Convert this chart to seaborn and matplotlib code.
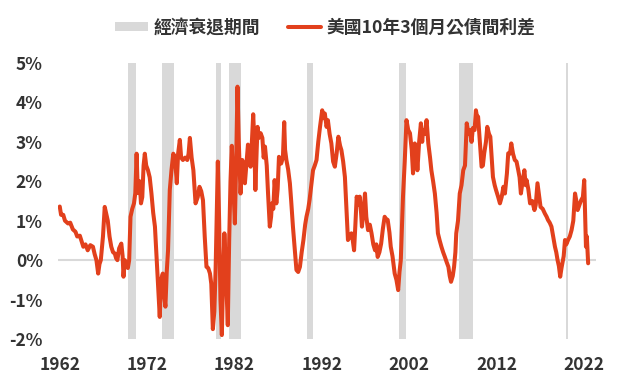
import pandas as pd
import matplotlib.pyplot as plt
import seaborn as sns
from matplotlib.patches import Patch
from matplotlib.lines import Line2D

# US 10y - 3m treasury spread (%)
years = [
    1962.0, 1962.15, 1962.4, 1962.6, 1962.95, 1963.2, 1963.5, 1963.8, 1964.0, 1964.3,
    1964.7, 1964.95, 1965.2, 1965.5, 1965.8, 1966.0, 1966.2, 1966.4, 1966.55, 1966.7,
    1966.95, 1967.15, 1967.3, 1967.5, 1967.7, 1967.9, 1968.1, 1968.3, 1968.45, 1968.6,
    1968.8, 1969.05, 1969.2, 1969.3, 1969.45, 1969.6, 1969.8, 1969.95, 1970.1, 1970.3,
    1970.5, 1970.65, 1970.8, 1970.9, 1971.0, 1971.15, 1971.3, 1971.45, 1971.6, 1971.74,
    1971.9, 1972.1, 1972.3, 1972.5, 1972.7, 1972.9, 1973.1, 1973.3, 1973.45, 1973.6,
    1973.8, 1973.95, 1974.1, 1974.25, 1974.4, 1974.5, 1974.6, 1974.8, 1975.0, 1975.2,
    1975.4, 1975.55, 1975.75, 1975.9, 1976.1, 1976.35, 1976.6, 1976.75, 1976.9, 1977.1,
    1977.3, 1977.55, 1977.8, 1978.0, 1978.2, 1978.4, 1978.6, 1978.8, 1979.0, 1979.2,
    1979.35, 1979.53, 1979.7, 1979.85, 1980.0, 1980.1, 1980.25, 1980.4, 1980.56, 1980.7,
    1980.85, 1980.95, 1981.1, 1981.24, 1981.4, 1981.55, 1981.7, 1981.85, 1982.05, 1982.2,
    1982.35, 1982.5, 1982.7, 1982.9, 1983.05, 1983.2, 1983.4, 1983.55, 1983.7, 1983.85,
    1984.0, 1984.15, 1984.25, 1984.4, 1984.55, 1984.65, 1984.8, 1985.0, 1985.2, 1985.35,
    1985.5, 1985.7, 1985.85, 1986.05, 1986.2, 1986.3, 1986.45, 1986.6, 1986.8, 1986.95,
    1987.1, 1987.35, 1987.55, 1987.7, 1987.8, 1987.95, 1988.15, 1988.35, 1988.5, 1988.7,
    1988.9, 1989.1, 1989.3, 1989.5, 1989.7, 1989.9, 1990.1, 1990.25, 1990.45, 1990.6,
    1990.8, 1991.0, 1991.2, 1991.4, 1991.6, 1991.8, 1992.05, 1992.2, 1992.35, 1992.55,
    1992.7, 1992.9, 1993.1, 1993.3, 1993.5, 1993.7, 1993.9, 1994.1, 1994.25, 1994.45,
    1994.65, 1994.85, 1995.0, 1995.2, 1995.4, 1995.55, 1995.7, 1995.85, 1996.0, 1996.2,
    1996.35, 1996.5, 1996.6, 1996.8, 1996.95, 1997.1, 1997.3, 1997.5, 1997.7, 1997.9,
    1998.1, 1998.25, 1998.4, 1998.6, 1998.8, 1999.0, 1999.2, 1999.35, 1999.55, 1999.75,
    1999.9, 2000.1, 2000.35, 2000.55, 2000.75, 2000.9, 2001.05, 2001.2, 2001.3, 2001.5,
    2001.7, 2001.9, 2002.1, 2002.3, 2002.45, 2002.65, 2002.8, 2002.95, 2003.15, 2003.35,
    2003.5, 2003.6, 2003.8, 2004.0, 2004.2, 2004.4, 2004.55, 2004.75, 2004.95, 2005.15,
    2005.3, 2005.5, 2005.7, 2005.9, 2006.1, 2006.3, 2006.5, 2006.65, 2006.8, 2007.0,
    2007.15, 2007.3, 2007.4, 2007.6, 2007.8, 2008.0, 2008.2, 2008.4, 2008.6, 2008.8,
    2008.95, 2009.15, 2009.3, 2009.5, 2009.65, 2009.8, 2009.9, 2010.1, 2010.3, 2010.45,
    2010.6, 2010.8, 2010.95, 2011.15, 2011.3, 2011.45, 2011.6, 2011.8, 2011.95, 2012.2,
    2012.4, 2012.6, 2012.8, 2012.97, 2013.2, 2013.35, 2013.55, 2013.7, 2013.9, 2014.1,
    2014.3, 2014.5, 2014.65, 2014.8, 2015.0, 2015.2, 2015.35, 2015.45, 2015.65, 2015.85,
    2016.1, 2016.35, 2016.5, 2016.7, 2016.85, 2017.05, 2017.3, 2017.55, 2017.75, 2017.9,
    2018.1, 2018.3, 2018.5, 2018.7, 2018.85, 2019.0, 2019.15, 2019.3, 2019.45, 2019.55,
    2019.7, 2019.85, 2020.0, 2020.2, 2020.4, 2020.6, 2020.8, 2021.0, 2021.15, 2021.3,
    2021.5, 2021.7, 2021.9, 2022.05, 2022.15, 2022.25, 2022.35, 2022.5,
]
spread = [
    1.36, 1.15, 1.15, 1.0, 0.93, 0.95, 0.78, 0.72, 0.6, 0.62,
    0.34, 0.4, 0.25, 0.38, 0.34, 0.15, 0.0, -0.34, -0.1, 0.0,
    0.6, 1.35, 1.2, 1.0, 0.6, 0.34, 0.2, 0.17, 0.05, 0.0,
    0.3, 0.42, 0.1, -0.42, 0.0, -0.08, -0.2, 0.0, 1.1, 1.3,
    1.44, 1.7, 2.7, 2.0, 1.7, 2.0, 1.44, 1.6, 2.4, 2.7,
    2.4, 2.28, 2.1, 1.69, 1.2, 0.85, 0.0, -0.8, -1.44, -0.5,
    -0.34, -0.9, -1.18, -0.3, 0.25, 1.0, 1.78, 2.3, 2.7, 2.6,
    1.95, 2.7, 3.05, 2.6, 2.54, 2.6, 2.54, 2.7, 3.1, 2.6,
    2.28, 1.44, 1.6, 1.86, 1.75, 1.52, 0.6, -0.17, -0.2, -0.34,
    -0.6, -1.75, -1.3, -0.2, 1.5, 2.5, 1.0, -1.0, -1.9, -0.5,
    0.68, 0.2, -0.8, -1.65, 0.5, 2.0, 2.9, 2.0, 0.93, 2.5,
    4.4, 3.0, 1.69, 2.54, 2.3, 1.95, 2.5, 2.93, 2.6, 2.37,
    3.0, 3.7, 3.2, 1.78, 2.8, 3.38, 3.1, 3.22, 3.1, 2.6,
    2.88, 2.4, 1.69, 0.85, 1.1, 1.44, 1.3, 2.03, 1.44, 1.8,
    2.62, 2.45, 2.6, 3.5, 2.8, 2.54, 2.3, 1.95, 1.5, 0.85,
    0.3, -0.25, -0.3, -0.17, 0.2, 0.51, 0.9, 1.1, 1.3, 1.52,
    1.9, 2.28, 2.4, 2.54, 3.0, 3.38, 3.8, 3.6, 3.72, 3.38,
    3.55, 3.2, 2.96, 2.5, 2.37, 2.7, 3.13, 2.9, 2.79, 2.5,
    2.11, 1.2, 0.51, 0.6, 0.68, 0.5, 0.25, 0.9, 1.61, 1.4,
    1.61, 1.2, 0.85, 1.3, 1.69, 1.1, 0.76, 0.9, 0.68, 0.4,
    0.25, 0.4, 0.08, 0.2, 0.42, 0.8, 1.1, 1.05, 1.02, 0.7,
    0.34, 0.1, -0.34, -0.5, -0.76, -0.3, 0.0, 1.0, 1.61, 2.5,
    3.55, 3.3, 3.22, 2.8, 2.2, 2.96, 2.88, 2.28, 3.0, 3.47,
    3.0, 3.3, 3.2, 3.55, 2.96, 2.6, 2.28, 2.0, 1.69, 1.2,
    0.68, 0.5, 0.34, 0.2, 0.08, -0.05, -0.17, -0.4, -0.55, -0.4,
    -0.17, 0.2, 0.68, 1.0, 1.69, 1.9, 2.28, 2.4, 3.47, 3.2,
    3.3, 3.0, 3.35, 3.3, 3.8, 3.6, 3.64, 3.0, 2.37, 2.4,
    2.71, 3.0, 3.38, 3.2, 3.13, 2.6, 2.11, 1.9, 1.78, 1.6,
    1.44, 1.6, 1.86, 1.69, 2.2, 2.71, 2.7, 2.96, 2.7, 2.54,
    2.5, 2.28, 2.1, 1.69, 2.0, 2.28, 1.9, 2.03, 1.8, 1.44,
    1.5, 1.27, 1.4, 1.95, 1.7, 1.35, 1.3, 1.18, 1.1, 1.02,
    0.95, 0.85, 0.6, 0.34, 0.2, 0.0, -0.15, -0.42, -0.2, -0.08,
    0.1, 0.51, 0.4, 0.51, 0.6, 0.76, 1.0, 1.69, 1.5, 1.27,
    1.4, 1.52, 1.6, 2.03, 1.2, 0.34, 0.6, -0.08,
]

# recession periods (start, end), decimal years
rec_start = [1969.8, 1973.7, 1979.9, 1981.4, 1990.3, 2000.9, 2007.7, 2020.0]
rec_end = [1970.7, 1975.1, 1980.45, 1982.7, 1991.0, 2001.7, 2009.3, 2020.2]

tick_years = [1962, 1972, 1982, 1992, 2002, 2012, 2022]
y_ticks = [-2, -1, 0, 1, 2, 3, 4, 5]

legend_rec = '經濟衰退期間'
legend_line = '美國10年3個月公債間利差'

df = pd.DataFrame({'year': years, 'spread': spread})

sns.set_theme(style='white')
plt.rcParams['font.family'] = ['Noto Sans CJK TC', 'DejaVu Sans']

red = '#E2401C'
grey = '#D9D9D9'
text_col = '#333333'

fig = plt.figure(figsize=(6.4, 3.84), dpi=100)
ax = fig.add_axes([58 / 640, 45 / 384, 538 / 640, 276 / 384])

for s, e in zip(rec_start, rec_end):
    ax.axvspan(s, e, color=grey, lw=0, zorder=0)

ax.axhline(0, color=grey, lw=1.5, zorder=1)

sns.lineplot(data=df, x='year', y='spread', color=red, lw=2.9, ax=ax, zorder=3)

ax.set_xlim(1961.8, 2023.4)
ax.set_ylim(-2, 5)
ax.set_xticks(tick_years)
ax.set_xticklabels([str(y) for y in tick_years])
ax.set_yticks(y_ticks)
ax.set_yticklabels([f'{v}%' for v in y_ticks])
ax.set_xlabel('')
ax.set_ylabel('')
ax.tick_params(axis='both', length=0, labelsize=12.5, labelcolor=text_col)
ax.tick_params(axis='y', pad=11)
ax.tick_params(axis='x', pad=12)
for lab in ax.get_xticklabels() + ax.get_yticklabels():
    lab.set_fontweight('bold')
for sp in ax.spines.values():
    sp.set_visible(False)

handles = [Patch(facecolor=grey, edgecolor='none'),
           Line2D([0], [0], color=red, lw=2.9)]
leg = fig.legend(handles, [legend_rec, legend_line], loc='center',
                 bbox_to_anchor=(0.508, 0.928), ncol=2, frameon=False,
                 prop={'size': 12.8, 'weight': 'bold'},
                 handlelength=1.85, handleheight=0.45,
                 columnspacing=1.6, handletextpad=0.3)
for t in leg.get_texts():
    t.set_color(text_col)

fig.savefig('out.png', dpi=100)
